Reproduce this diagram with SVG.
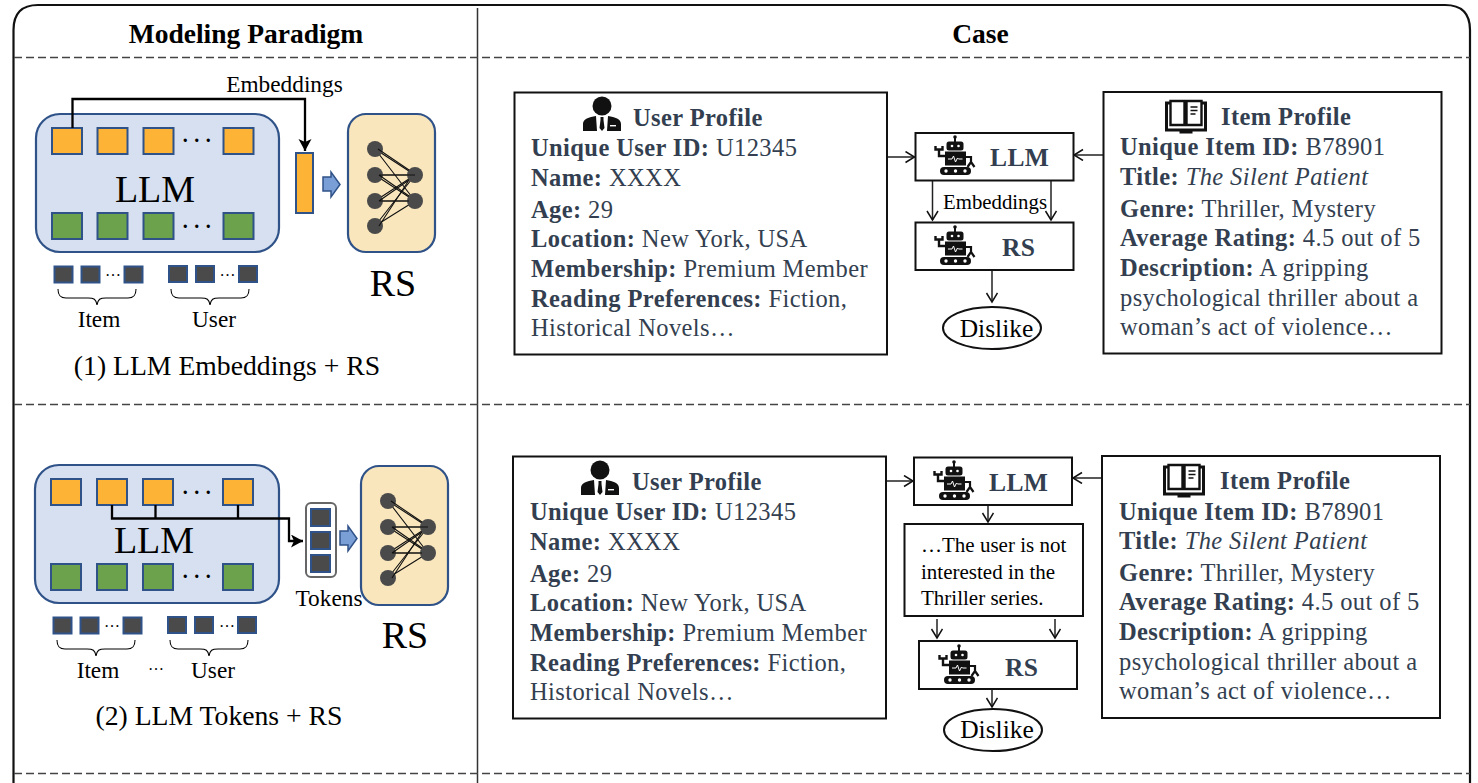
<svg xmlns="http://www.w3.org/2000/svg" xmlns:xlink="http://www.w3.org/1999/xlink" width="1478" height="783" viewBox="0 0 1478 783">
<style>
text{font-family:"Liberation Serif","Times New Roman",serif;fill:#000}
.d{font-size:24.5px;fill:#333f50;letter-spacing:.4px}
.d tspan.b{font-weight:700}
.h{font-size:24.500px;font-weight:700;fill:#333f50;letter-spacing:.4px}
.m{font-size:25.500px;font-weight:700;fill:#333f50;letter-spacing:.4px}
.t{font-size:27.500px;font-weight:700;text-anchor:middle}
.big{font-size:38px;text-anchor:middle}
.cap{font-size:27.700px;text-anchor:middle}
.lab{font-size:23.300px;text-anchor:middle}
.dots{font-size:20px;font-weight:700;text-anchor:middle;letter-spacing:6.500px}
.sd{font-size:16px;text-anchor:middle}
.note{font-size:21px}
.dis{font-size:25.500px;text-anchor:middle}
.box{fill:#fff;stroke:#111;stroke-width:2}
.llm{fill:#d6e0f0;stroke:#2f5288;stroke-width:2.2}
.rs{fill:#f9e6bd;stroke:#2f5288;stroke-width:2.2}
.o{fill:#fdb436;stroke:#2f5288;stroke-width:2}
.g{fill:#6ba24b;stroke:#2f5288;stroke-width:2}
.s{fill:#4a4a4a;stroke:#2f5288;stroke-width:2}
.dash{stroke:#444;stroke-width:1.4;stroke-dasharray:8 4;fill:none}
.c{fill:none;stroke:#222;stroke-width:1.5}
.k{fill:none;stroke:#000;stroke-width:2.300}
.ar{fill:#7a9fd6;stroke:#2f5288;stroke-width:1.5}
.n{stroke:#111;stroke-width:1.1;fill:none}
</style>
<defs>
<marker id="op" markerWidth="14" markerHeight="14" refX="10" refY="6" orient="auto" markerUnits="userSpaceOnUse"><path d="M1 0.500L10 6L1 11.500" fill="none" stroke="#111" stroke-width="1.500"/></marker>
<marker id="sol" markerWidth="14" markerHeight="14" refX="12" refY="6.500" orient="auto" markerUnits="userSpaceOnUse"><path d="M0 0L12 6.500L0 13L3 6.500Z" fill="#000"/></marker>
<g id="robot">
<circle cx="21" cy="2" r="1.800" fill="#111"/><rect x="20" y="2" width="2" height="5" fill="#111"/>
<rect x="12.500" y="6.500" width="17" height="9" rx="2.500" fill="#111"/><circle cx="18" cy="11" r="1.300" fill="#fff"/><circle cx="24.500" cy="11" r="1.300" fill="#fff"/>
<rect x="11" y="16.500" width="21" height="14" fill="#111"/>
<path d="M14 24h4l1.500-3 2 6 2-4 1 1h4" fill="none" stroke="#fff" stroke-width="1"/>
<path d="M11 21H5V14M1.500 11v3.500h7V11" fill="none" stroke="#111" stroke-width="2.400"/>
<path d="M32 22h5v5M33.500 32l3.500-5 3.500 5" fill="none" stroke="#111" stroke-width="2.200"/>
<rect x="6" y="32" width="31" height="8" rx="4" fill="#111"/><circle cx="12" cy="36" r="1.700" fill="#fff"/><circle cx="21.500" cy="36" r="1.700" fill="#fff"/><circle cx="31" cy="36" r="1.700" fill="#fff"/>
</g>
<g id="person">
<circle cx="19" cy="10" r="9.500" fill="#111"/>
<path d="M0 35V28C0 23 6 21 13 20L14 35ZM38 35V28C38 23 32 21 25 20L24 35Z" fill="#111"/>
<path d="M17.500 21h3v3l1 8-2.500 3-2.500-3 1-8z" fill="#111"/>
<rect x="27" y="29" width="6" height="1.400" fill="#fff"/>
</g>
<g id="book" fill="none" stroke="#111">
<path d="M1.500 3H40.500V30H1.500Z" stroke-width="3"/>
<path d="M5.500 1h14v24H5.500zM21.500 25V1h15v24z" fill="#fff" stroke-width="2.400"/>
<path d="M25.500 7h7M25.500 10.500h7M25.500 14h5" stroke-width="1.300"/>
<rect x="15" y="31" width="12" height="2" fill="#111"/>
</g>
<g id="net">
<path class="n" d="M0 0L40 26M0 0L40 52M0 26L40 26M0 26L40 52M0 52L40 26M0 52L40 52M0 77L40 26M0 77L40 52"/>
<g fill="#4a4a4a"><circle cx="0" cy="0" r="8"/><circle cx="0" cy="26" r="8"/><circle cx="0" cy="52" r="8"/><circle cx="0" cy="77" r="8"/><circle cx="40" cy="26" r="8"/><circle cx="40" cy="52" r="8"/></g>
<path class="n" d="M3 0L34 21M4 26H40M4 26L34 47M4 52L34 31M4 52H34M4 77L34 31"/>
</g>
<path id="fat" d="M0 5H8V0L17 12.500L8 25V19H0Z"/>
<path id="brace" d="M0 0C0 8 4 9 8 9H30C36 9 38 10 39 16C40 10 42 9 48 9H70C74 9 78 8 78 0" fill="none" stroke="#000" stroke-width="1.100"/>
</defs>

<g id="frame">
<path d="M13.500 800V30Q13.500 5 38 5H1445Q1470 5 1470 30V800" fill="none" stroke="#111" stroke-width="2.200"/>
<path d="M477.500 8V783" stroke="#333" stroke-width="1.500"/>
<path class="dash" d="M14 57.500H1470M14 404.500H1470M14 773.500H1470"/>
<text class="t" x="246" y="43">Modeling Paradigm</text>
<text class="t" x="980.500" y="43">Case</text>
</g>

<g id="llm1">
<rect class="llm" x="36" y="114" width="243" height="138" rx="24"/>
<rect class="o" x="52" y="128" width="30" height="26"/><rect class="o" x="97.500" y="128" width="30" height="26"/><rect class="o" x="143.500" y="128" width="30" height="26"/><rect class="o" x="223.500" y="128" width="30" height="26"/>
<rect class="g" x="52" y="213" width="30" height="26"/><rect class="g" x="97.500" y="213" width="30" height="26"/><rect class="g" x="143.500" y="213" width="30" height="26"/><rect class="g" x="223.500" y="213" width="30" height="26"/>
<text class="dots" x="200" y="142">...</text><text class="dots" x="200" y="228">...</text>
<text class="big" x="155" y="202">LLM</text>
</g>
<g id="inputs1">
<rect class="s" x="54.500" y="266.500" width="18" height="16"/><rect class="s" x="81.500" y="266.500" width="18" height="16"/><rect class="s" x="124.500" y="266.500" width="18" height="16"/>
<rect class="s" x="169" y="266" width="18" height="16"/><rect class="s" x="196" y="266" width="18" height="16"/><rect class="s" x="239" y="266" width="18" height="16"/>
<text class="sd" x="113" y="276">…</text><text class="sd" x="227.500" y="276">…</text>
<use xlink:href="#brace" href="#brace" x="58" y="289"/><use xlink:href="#brace" href="#brace" x="171" y="289"/>
<text class="lab" x="99" y="327">Item</text><text class="lab" x="214" y="327">User</text>
</g>
<g id="vector1"><rect class="o" x="296" y="153" width="17" height="60"/></g>
<g id="rs1">
<rect class="rs" x="348" y="114" width="87" height="138" rx="18"/>
<use xlink:href="#net" href="#net" x="375" y="149"/>
<text class="big" x="393" y="296">RS</text>
</g>
<use xlink:href="#fat" href="#fat" class="ar" x="323" y="172"/>
<text id="emb1" class="lab" x="284.500" y="92">Embeddings</text>
<text id="cap1" class="cap" x="227" y="375">(1) LLM Embeddings + RS</text>

<g id="llm2">
<rect class="llm" x="35" y="465" width="244" height="138" rx="24"/>
<rect class="o" x="51" y="479" width="30" height="26"/><rect class="o" x="97" y="479" width="30" height="26"/><rect class="o" x="143" y="479" width="30" height="26"/><rect class="o" x="223" y="479" width="30" height="26"/>
<rect class="g" x="51" y="564" width="30" height="26"/><rect class="g" x="97" y="564" width="30" height="26"/><rect class="g" x="143" y="564" width="30" height="26"/><rect class="g" x="223" y="564" width="30" height="26"/>
<text class="dots" x="200" y="494">...</text><text class="dots" x="200" y="578">...</text>
<text class="big" x="154" y="553">LLM</text>
</g>
<g id="inputs2">
<rect class="s" x="53.500" y="617.500" width="18" height="16"/><rect class="s" x="80.500" y="617.500" width="18" height="16"/><rect class="s" x="123.500" y="617.500" width="18" height="16"/>
<rect class="s" x="168" y="617" width="18" height="16"/><rect class="s" x="195" y="617" width="18" height="16"/><rect class="s" x="238" y="617" width="18" height="16"/>
<text class="sd" x="112" y="627">…</text><text class="sd" x="227" y="627">…</text>
<use xlink:href="#brace" href="#brace" x="57" y="640"/><use xlink:href="#brace" href="#brace" x="170" y="640"/>
<text class="lab" x="98" y="678">Item</text><text class="lab" x="213" y="678">User</text>
<text class="sd" x="156" y="670">…</text>
</g>
<g id="tokens2">
<rect x="306" y="503" width="30" height="74" rx="5" fill="#fff" stroke="#666" stroke-width="2"/>
<rect class="s" x="311" y="509" width="19" height="17"/><rect class="s" x="311" y="532" width="19" height="17"/><rect class="s" x="311" y="555" width="19" height="17"/>
</g>
<g id="rs2">
<rect class="rs" x="361" y="466" width="87" height="139" rx="18"/>
<use xlink:href="#net" href="#net" x="388" y="501"/>
<text class="big" x="405" y="648">RS</text>
</g>
<use xlink:href="#fat" href="#fat" class="ar" x="340" y="526"/>
<text id="tok2" class="lab" x="329" y="606">Tokens</text>
<text id="cap2" class="cap" x="219" y="725">(2) LLM Tokens + RS</text>

<g id="connectors">
<path class="k" d="M72.500 128V99H305V151" marker-end="url(#sol)"/>
<path class="k" d="M112 505V518.500H289V541H303" marker-end="url(#sol)"/>
<path class="k" d="M155.500 505V518.500M238 505V518.500"/>
<path class="c" d="M887 157H914.500" marker-end="url(#op)"/>
<path class="c" d="M1103 155H1074" marker-end="url(#op)"/>
<path class="c" d="M932.500 181V220" marker-end="url(#op)"/>
<path class="c" d="M1051 181V220" marker-end="url(#op)"/>
<path class="c" d="M992 270V302" marker-end="url(#op)"/>
<path class="c" d="M886 481H913" marker-end="url(#op)"/>
<path class="c" d="M1102 478H1073" marker-end="url(#op)"/>
<path class="c" d="M988 505V522" marker-end="url(#op)"/>
<path class="c" d="M937 619V638" marker-end="url(#op)"/>
<path class="c" d="M1055 619V638" marker-end="url(#op)"/>
<path class="c" d="M992 689V707" marker-end="url(#op)"/>
</g>

<g id="user1"><rect class="box" x="514.500" y="92.500" width="372.500" height="262"/>
<use xlink:href="#person" href="#person" x="583" y="96"/>
<text class="h" x="633" y="126">User Profile</text>
<text class="d"><tspan x="531" y="156"><tspan class="b">Unique User ID:</tspan> U12345</tspan><tspan x="531" y="186"><tspan class="b">Name:</tspan> XXXX</tspan><tspan x="531" y="218"><tspan class="b">Age:</tspan> 29</tspan><tspan x="531" y="247"><tspan class="b">Location:</tspan> New York, USA</tspan><tspan x="531" y="277"><tspan class="b">Membership:</tspan> Premium Member</tspan><tspan x="531" y="307"><tspan class="b">Reading Preferences:</tspan> Fiction,</tspan><tspan x="531" y="336">Historical Novels…</tspan></text></g>
<g id="item1"><rect class="box" x="1103.500" y="92" width="338" height="261.500"/>
<use xlink:href="#book" href="#book" x="1165" y="100"/>
<text class="h" x="1221" y="125">Item Profile</text>
<text class="d"><tspan x="1120" y="155"><tspan class="b">Unique Item ID:</tspan> B78901</tspan><tspan x="1120" y="185"><tspan class="b">Title:</tspan> <tspan font-style="italic">The Silent Patient</tspan></tspan><tspan x="1120" y="217"><tspan class="b">Genre:</tspan> Thriller, Mystery</tspan><tspan x="1120" y="246"><tspan class="b">Average Rating:</tspan> 4.5 out of 5</tspan><tspan x="1120" y="276"><tspan class="b">Description:</tspan> A gripping</tspan><tspan x="1120" y="306">psychological thriller about a</tspan><tspan x="1120" y="335">woman’s act of violence…</tspan></text></g>
<g id="llmbox1"><rect class="box" x="915.500" y="133" width="158" height="47.500"/><use xlink:href="#robot" href="#robot" x="934" y="135"/><text class="m" x="990" y="166">LLM</text></g>
<g id="rsbox1"><rect class="box" x="915.500" y="222.500" width="158" height="47.500"/><use xlink:href="#robot" href="#robot" x="934" y="225"/><text class="m" x="1002" y="256">RS</text></g>
<text id="emb3" x="995" y="209" text-anchor="middle" font-size="20.800">Embeddings</text>
<g id="dis1"><ellipse cx="992" cy="328" rx="49" ry="21" fill="#fff" stroke="#111" stroke-width="2"/><text class="dis" x="996.500" y="337">Dislike</text></g>

<g id="user2"><rect class="box" x="513" y="456.500" width="373" height="262"/>
<use xlink:href="#person" href="#person" x="581" y="460"/>
<text class="h" x="632" y="490">User Profile</text>
<text class="d"><tspan x="530" y="520"><tspan class="b">Unique User ID:</tspan> U12345</tspan><tspan x="530" y="550"><tspan class="b">Name:</tspan> XXXX</tspan><tspan x="530" y="582"><tspan class="b">Age:</tspan> 29</tspan><tspan x="530" y="611"><tspan class="b">Location:</tspan> New York, USA</tspan><tspan x="530" y="641"><tspan class="b">Membership:</tspan> Premium Member</tspan><tspan x="530" y="671"><tspan class="b">Reading Preferences:</tspan> Fiction,</tspan><tspan x="530" y="700">Historical Novels…</tspan></text></g>
<g id="item2"><rect class="box" x="1102" y="456" width="338" height="262"/>
<use xlink:href="#book" href="#book" x="1163" y="464"/>
<text class="h" x="1220" y="489">Item Profile</text>
<text class="d"><tspan x="1119" y="520"><tspan class="b">Unique Item ID:</tspan> B78901</tspan><tspan x="1119" y="549"><tspan class="b">Title:</tspan> <tspan font-style="italic">The Silent Patient</tspan></tspan><tspan x="1119" y="581"><tspan class="b">Genre:</tspan> Thriller, Mystery</tspan><tspan x="1119" y="610"><tspan class="b">Average Rating:</tspan> 4.5 out of 5</tspan><tspan x="1119" y="640"><tspan class="b">Description:</tspan> A gripping</tspan><tspan x="1119" y="670">psychological thriller about a</tspan><tspan x="1119" y="699">woman’s act of violence…</tspan></text></g>
<g id="llmbox2"><rect class="box" x="914" y="457.500" width="158" height="47.500"/><use xlink:href="#robot" href="#robot" x="933" y="460"/><text class="m" x="989" y="491">LLM</text></g>
<g id="note2"><rect class="box" x="904.500" y="524" width="178.500" height="92"/><text class="note" x="921" y="552">…The user is not</text><text class="note" x="921" y="579">interested in the</text><text class="note" x="921" y="605">Thriller series.</text></g>
<g id="rsbox2"><rect class="box" x="919" y="641" width="158" height="48"/><use xlink:href="#robot" href="#robot" x="938" y="644"/><text class="m" x="1005" y="676">RS</text></g>
<g id="dis2"><ellipse cx="993" cy="730" rx="49" ry="21" fill="#fff" stroke="#111" stroke-width="2"/><text class="dis" x="997" y="738">Dislike</text></g>
</svg>
